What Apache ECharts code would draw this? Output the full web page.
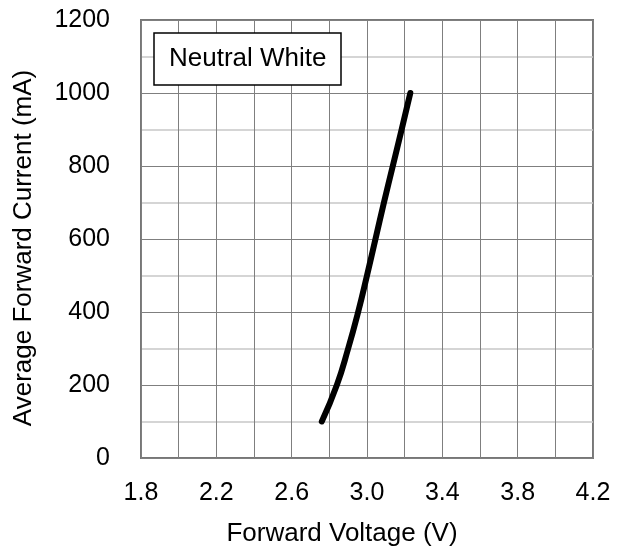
<!DOCTYPE html>
<html>
<head>
<meta charset="utf-8">
<script src="https://cdn.jsdelivr.net/npm/echarts@6/dist/echarts.min.js"></script>
<style>
  html, body { margin: 0; padding: 0; background: #fff; }
  #chart { width: 632px; height: 552px; }
</style>
</head>
<body>
<div id="chart"></div>
<script>
// Forward voltage (V) vs average forward current (mA)
const voltage = [2.76, 2.84, 2.9, 2.953, 3.0, 3.045, 3.09, 3.137, 3.184, 3.23];
const current = [100, 200, 300, 400, 500, 600, 700, 800, 900, 1000];
const seriesName = 'Neutral White';

const FONT = 'Liberation Sans, Arial, sans-serif';
const GRID_DARK = '#7f7f7f';
const GRID_LIGHT = '#c8c8c8';

const chart = echarts.init(document.getElementById('chart'), null, { renderer: 'canvas' });

chart.setOption({
  animation: false,
  backgroundColor: '#fff',
  title: {
    text: seriesName,
    left: 154, top: 33,
    padding: [11, 15, 11, 15],
    borderColor: '#000', borderWidth: 1.5,
    backgroundColor: '#fff',
    textStyle: { fontFamily: FONT, fontSize: 26, fontWeight: 'normal', color: '#000', lineHeight: 30 }
  },
  grid: {
    left: 141, right: 39, top: 20, bottom: 92,
    show: true, borderColor: '#777', borderWidth: 2, backgroundColor: 'transparent'
  },
  xAxis: {
    type: 'value', min: 1.8, max: 4.2, interval: 0.4,
    name: 'Forward Voltage (V)', nameLocation: 'middle', nameGap: 63,
    nameTextStyle: { fontFamily: FONT, fontSize: 26, color: '#000', padding: [0, 50, 0, 0] },
    axisLine: { show: false }, axisTick: { show: false },
    axisLabel: { fontFamily: FONT, fontSize: 25, color: '#000', margin: 23,
      formatter: (v) => v.toFixed(1) },
    splitLine: { show: true, lineStyle: { color: GRID_DARK, width: 1 } },
    minorTick: { show: false, splitNumber: 2 },
    minorSplitLine: { show: true, lineStyle: { color: GRID_DARK, width: 1 } }
  },
  yAxis: {
    type: 'value', min: 0, max: 1200, interval: 200,
    name: 'Average Forward Current (mA)', nameLocation: 'middle', nameGap: 104,
    nameTextStyle: { fontFamily: FONT, fontSize: 26, color: '#000', padding: [0, 18, 0, 0] },
    axisLine: { show: false }, axisTick: { show: false },
    axisLabel: { fontFamily: FONT, fontSize: 25, color: '#000', margin: 31,
      formatter: (v) => String(v) },
    splitLine: { show: true, lineStyle: { color: GRID_DARK, width: 1 } },
    minorTick: { show: false, splitNumber: 2 },
    minorSplitLine: { show: true, lineStyle: { color: GRID_LIGHT, width: 1.5 } }
  },
  series: [{
    name: seriesName,
    type: 'line',
    data: voltage.map((v, i) => [v, current[i]]),
    smooth: 0.5,
    showSymbol: false,
    lineStyle: { color: '#000', width: 6, cap: 'round', join: 'round' },
    z: 3
  }]
});
</script>
</body>
</html>
